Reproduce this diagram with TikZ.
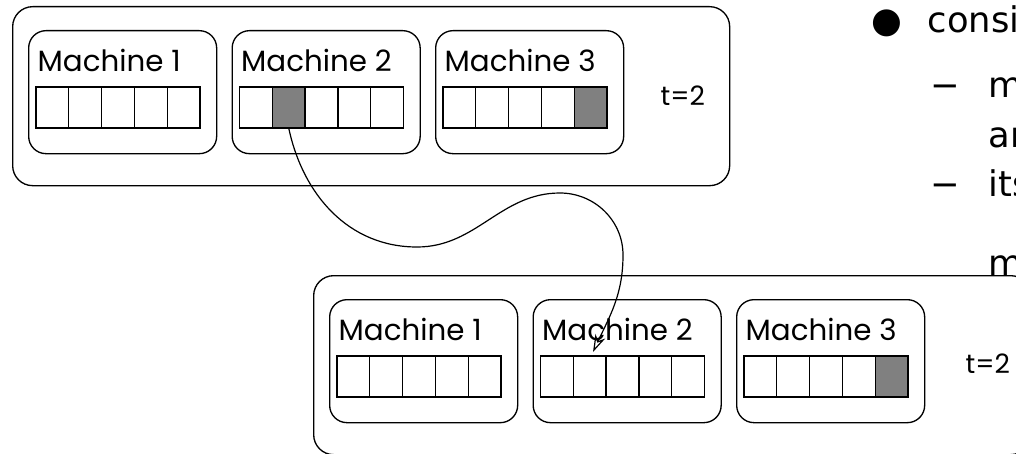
\documentclass[tikz,border=0pt]{standalone}
\usepackage{fontspec}
\setmainfont{Poppins}
\newfontfamily\slidefont{DejaVu Sans}
\usetikzlibrary{arrows.meta}
\definecolor{cellgray}{HTML}{808080}

\begin{document}
\begin{tikzpicture}[
    x=0.75pt, y=-0.75pt, line width=1pt,
    frame/.style={draw, rounded corners=15pt, anchor=north west, inner sep=0pt,
                  minimum width=537.75pt, minimum height=134.25pt},
    machinebox/.style={draw, rounded corners=13pt, anchor=north west, inner sep=0pt,
                  minimum width=141pt, minimum height=92.25pt},
    cell/.style={draw, fill=white, anchor=north west, inner sep=0pt, outer sep=0pt,
                 minimum width=24.6pt, minimum height=30.75pt},
    machinelabel/.style={anchor=base west, inner sep=0pt, font=\fontsize{22pt}{24pt}\selectfont},
    timelabel/.style={anchor=base west, inner sep=0pt, font=\fontsize{20pt}{22pt}\selectfont},
    slide/.style={anchor=base west, inner sep=0pt, font=\slidefont\fontsize{26.5pt}{29pt}\selectfont},
    move/.style={-{Stealth[open, length=13pt, width=8pt, inset=4pt]}, line width=0.9pt},
    % occupied slots
    cell-t-2-2/.style={fill=cellgray},
    cell-t-3-5/.style={fill=cellgray},
    cell-b-3-5/.style={fill=cellgray},
]
\useasboundingbox (0,0) rectangle (1016,453);
\clip (0,0) rectangle (1016,453);

% two snapshots of the cluster: before (t) and after (b)
\foreach \g/\ox/\oy in {t/12/6, b/313/275} {
  \begin{scope}[shift={(\ox,\oy)}]
    \node[frame] (\g-frame) at (0,0) {};
    \foreach \m in {1,2,3} {
      \pgfmathsetmacro\bx{16+(\m-1)*203.5}
      \node[machinebox] (\g-m\m) at (\bx,24) {};
      \node[machinelabel] (\g-m\m-label) at ({\bx+9},65) {Machine \m};
      \foreach \c in {1,...,5} {
        \pgfmathsetmacro\cx{\bx+8+(\c-1)*32.8}
        \node[cell, cell-\g-\m-\c/.try] (\g-m\m-c\c) at (\cx,81) {};
      }
    }
  \end{scope}
}
\node[timelabel] (t-time) at (660,105) {t=2};
\node[timelabel] (b-time) at (965,373) {t=2};

% migration of the job from machine 2
\coordinate (w1) at (417,247);
\coordinate (w2) at (560,193);
\coordinate (w3) at (623,255);
\coordinate (dest) at (593,352);
\draw[move] (t-m2-c2.south) to[out=-78, in=180] (w1) to[out=0, in=180] (w2)
  to[out=0, in=90] (w3) to[out=-90, in=65] (dest);

% text of the slide beside the figure
\node[slide, anchor=center] (bullet) at (887,23) {●};
\node[slide] (item) at (927,33) {consi};
\node[slide] (dash1) at (930,97) {−};
\node[slide] (sub1a) at (988,97) {m};
\node[slide] (sub1b) at (988,147) {ar};
\node[slide] (dash2) at (930,196) {−};
\node[slide] (sub2a) at (988,196) {its};
\node[slide] (sub2b) at (988,275) {m};
\end{tikzpicture}
\end{document}
